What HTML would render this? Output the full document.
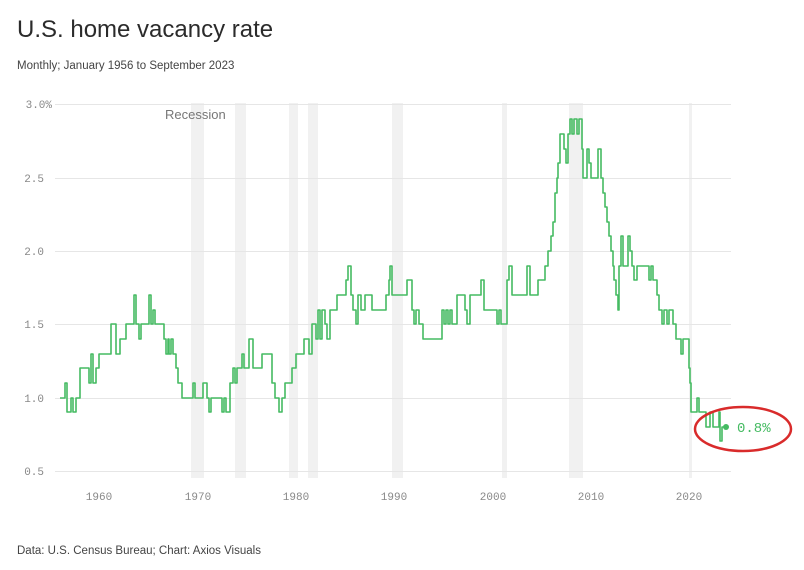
<!DOCTYPE html>
<html><head><meta charset="utf-8"><style>
body{margin:0;width:804px;height:570px;background:#fff;overflow:hidden}
svg{display:block}
</style></head><body>
<svg width="804" height="570" xmlns="http://www.w3.org/2000/svg">
<text x="17" y="37" font-family="Liberation Sans, sans-serif" font-size="24" fill="#2b2b2b">U.S. home vacancy rate</text>
<text x="17" y="69" font-family="Liberation Sans, sans-serif" font-size="11.5" fill="#444">Monthly; January 1956 to September 2023</text>
<g fill="#f1f1f1">
<rect x="191" y="103" width="13" height="375"/>
<rect x="235" y="103" width="11" height="375"/>
<rect x="289" y="103" width="9" height="375"/>
<rect x="308" y="103" width="10" height="375"/>
<rect x="392" y="103" width="11" height="375"/>
<rect x="502" y="103" width="5" height="375"/>
<rect x="569" y="103" width="14" height="375"/>
<rect x="689" y="103" width="3" height="375"/>
</g>
<g stroke="#e6e6e6" stroke-width="1">
<line x1="55" x2="731" y1="104.5" y2="104.5"/>
<line x1="55" x2="731" y1="178.5" y2="178.5"/>
<line x1="55" x2="731" y1="251.5" y2="251.5"/>
<line x1="55" x2="731" y1="324.5" y2="324.5"/>
<line x1="55" x2="731" y1="398.5" y2="398.5"/>
<line x1="55" x2="731" y1="471.5" y2="471.5"/>
</g>
<g font-family="Liberation Mono, monospace" font-size="11" fill="#888" text-anchor="end">
<text x="52" y="108">3.0%</text>
<text x="44" y="182">2.5</text>
<text x="44" y="255">2.0</text>
<text x="44" y="328">1.5</text>
<text x="44" y="402">1.0</text>
<text x="44" y="475">0.5</text>
</g>
<g font-family="Liberation Mono, monospace" font-size="11" fill="#888" text-anchor="middle">
<text x="99" y="500">1960</text><text x="198" y="500">1970</text><text x="296" y="500">1980</text>
<text x="394" y="500">1990</text><text x="493" y="500">2000</text><text x="591" y="500">2010</text><text x="689" y="500">2020</text>
</g>
<text x="165" y="119" font-family="Liberation Sans, sans-serif" font-size="13" fill="#777">Recession</text>
<path fill="none" stroke="#45bb62" stroke-width="1.6" stroke-linejoin="round" d="M60 398 H65 V383 H67 V412 H71 V398 H73 V412 H76 V398 H80 V368 H89 V383 H91 V354 H93 V383 H96 V368 H99 V354 H111 V324 H116 V354 H120 V339 H126 V324 H134 V295 H136 V324 H139 V339 H141 V324 H149 V295 H151 V324 H153 V310 H155 V324 H164 V339 H166 V354 H168 V339 H169 V354 H171 V339 H173 V354 H176 V368 H178 V383 H182 V398 H193 V383 H195 V398 H203 V383 H207 V398 H209 V412 H211 V398 H222 V412 H224 V398 H226 V412 H230 V383 H233 V368 H235 V383 H237 V368 H242 V354 H244 V368 H249 V339 H253 V368 H262 V354 H272 V383 H275 V398 H279 V412 H282 V398 H285 V383 H292 V368 H296 V354 H304 V339 H309 V354 H312 V324 H316 V339 H318 V310 H320 V339 H322 V310 H325 V324 H327 V339 H330 V310 H337 V295 H346 V280 H348 V266 H351 V295 H353 V310 H356 V324 H358 V295 H361 V310 H365 V295 H372 V310 H386 V295 H389 V280 H390 V266 H392 V295 H396 V295 H407 V280 H412 V310 H414 V324 H416 V310 H419 V324 H423 V339 H442 V310 H444 V324 H446 V310 H448 V324 H450 V310 H452 V324 H457 V295 H465 V310 H467 V324 H470 V295 H481 V280 H484 V310 H497 V324 H499 V310 H501 V324 H504 V324 H507 V280 H509 V266 H512 V295 H527 V266 H530 V295 H538 V280 H545 V266 H548 V251 H551 V236 H553 V222 H555 V193 H557 V178 H558 V163 H560 V134 H562 V134 H564 V149 H566 V163 H568 V134 H570 V119 H572 V134 H574 V119 H577 V134 H579 V119 H582 V149 H583 V178 H587 V149 H589 V163 H591 V178 H593 V178 H598 V149 H601 V178 H603 V193 H605 V207 H607 V222 H609 V236 H611 V251 H613 V266 H614 V280 H616 V295 H618 V310 H619 V266 H621 V236 H623 V266 H628 V236 H630 V251 H632 V266 H634 V280 H637 V266 H639 V266 H649 V280 H651 V266 H653 V280 H657 V295 H659 V310 H662 V324 H664 V310 H667 V324 H669 V310 H673 V324 H676 V339 H678 V339 H681 V354 H683 V339 H689 V368 H690 V383 H691 V412 H697 V398 H699 V412 H706 V427 H710 V412 H713 V427 H719 V412 H720 V441 H722 V427 H724"/>
<circle cx="726" cy="427" r="3" fill="#45bb62"/>
<text x="737" y="432" font-family="Liberation Mono, monospace" font-size="14" fill="#45bb62">0.8%</text>
<ellipse cx="743" cy="429" rx="48" ry="22" fill="none" stroke="#d92b2b" stroke-width="2.5"/>
<text x="17" y="554" font-family="Liberation Sans, sans-serif" font-size="11.5" fill="#444">Data: U.S. Census Bureau; Chart: Axios Visuals</text>
</svg>
</body></html>
